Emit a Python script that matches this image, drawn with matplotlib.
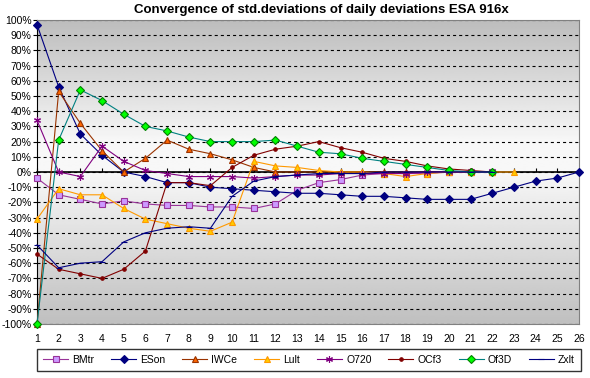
import numpy as np
import matplotlib
matplotlib.use("Agg")
import matplotlib.pyplot as plt
from matplotlib.ticker import FixedLocator, FuncFormatter

plt.rcParams['font.family'] = ['Liberation Sans', 'DejaVu Sans']
plt.rcParams['lines.scale_dashes'] = False

# data (values in %)
days = list(range(1, 27))
bmtr = [-4, -15, -18, -21, -19, -21, -22, -22, -23, -23, -24, -21, -12, -7, -5, -2, -1, -1, -1, 0, 0, 0]
eson = [97, 56, 25, 11, 0, -3, -7, -7, -10, -11, -12, -13, -14, -14, -15, -16, -16, -17, -18, -18, -18, -14, -10, -6, -4, 0]
iwce = [-100, 53, 32, 14, 0, 9, 21, 15, 12, 8, 3, 0, 0, 0, 0, 0, 0, 0, 0, 0, 0, 0]
lult = [-31, -11, -15, -15, -24, -31, -34, -37, -39, -33, 7, 4, 3, 1, 0, 0, -1, -3, -1, 0, 0, 0, 0]
o720 = [34, 0, -3, 17, 7, 1, -1, -3, -3, -3, -4, -3, -2, -2, -1, -1, -1, -1, 0, 0, 0, 0]
ocf3 = [-54, -64, -67, -70, -64, -52, -7, -7, -9, 3, 11, 15, 17, 20, 16, 13, 9, 7, 4, 2, 1, 0]
of3d = [-100, 21, 54, 47, 38, 30, 27, 23, 20, 20, 20, 21, 17, 13, 12, 9, 7, 5, 3, 1, 0, 0]
zxlt = [-48, -63, -60, -59, -46, -40, -37, -36, -37, -16, -6, -3, -2, -1, -1, -1, 0, 0, 0, 0, 0, 0]

title = "Convergence of std.deviations of daily deviations ESA 916x"

# (name, values, line colour, marker, marker face, marker edge, marker size)
series = [
    ("BMtr", bmtr, "#993399", "s", "#cc99ff", "#993399", 4.5),
    ("ESon", eson, "#000080", "D", "#000080", "#000080", 4),
    ("IWCe", iwce, "#993300", "^", "#ff6600", "#993300", 5),
    ("Lult", lult, "#ff9900", "^", "#ffcc00", "#ff9900", 5),
    ("O720", o720, "#800080", (6, 2, 0), "#800080", "#800080", 5),
    ("OCf3", ocf3, "#800000", "o", "#800000", "#800000", 2.5),
    ("Of3D", of3d, "#008080", "D", "#00ff00", "#008000", 4),
    ("Zxlt", zxlt, "#000080", "_", "#000080", "#000080", 5),
]

fig = plt.figure(figsize=(5.9, 3.78), dpi=100)
ax = fig.add_axes([37 / 590, 1 - 324 / 378, (579 - 37) / 590, (324 - 20) / 378])

# grey gradient background, lightest near the middle
g = np.interp(np.linspace(0, 1, 256), [0, 0.5, 0.6, 1], [0.75, 0.97, 0.97, 0.74])
ax.imshow(g.reshape(-1, 1), cmap="gray", vmin=0, vmax=1, extent=[0, 1, 0, 1],
          transform=ax.transAxes, aspect="auto", origin="lower", zorder=0)

for name, vals, col, mk, mfc, mec, ms in series:
    ax.plot(days[:len(vals)], vals, color=col, lw=0.8, marker=mk, mfc=mfc, mec=mec,
            ms=ms, mew=0.8, label=name, zorder=3, clip_on=False)

ax.set_xlim(1, 26)
ax.set_ylim(-100, 100)
ax.yaxis.set_major_locator(FixedLocator(range(-100, 101, 10)))
ax.yaxis.set_major_formatter(FuncFormatter(lambda v, p: f"{int(round(v))}%"))
ax.set_xticks(days)
ax.tick_params(axis="x", length=0, pad=7, labelsize=7.5)
ax.tick_params(axis="y", length=3, width=0.8, pad=1, labelsize=7.5)
ax.grid(axis="y", color="black", lw=0.8, linestyle=(0, (2.2, 2.2)), zorder=1)

for s in ["top", "right", "bottom"]:
    ax.spines[s].set_color("#808080")
ax.spines["left"].set_color("black")

# category axis crossing at 0%
zero = ax.secondary_xaxis(0.5)
zero.set_xticks(days)
zero.tick_params(axis="x", direction="out", length=3, width=0.8, labelbottom=False, labeltop=False)
zero.spines["bottom"].set_linewidth(1.2)
zero.spines["top"].set_linewidth(1.2)

fig.text(321 / 590, 1 - 10 / 378, title, ha="center", va="center", fontsize=9.5, fontweight="bold")

h, l = ax.get_legend_handles_labels()
leg = fig.legend(h, l, loc="lower left", ncol=8, mode="expand",
                 bbox_to_anchor=(37 / 590, 1 - 371 / 378, (581 - 37) / 590, 26 / 378),
                 fontsize=7.5, frameon=True, fancybox=False, handlelength=2.4,
                 handletextpad=0.4, borderaxespad=0, borderpad=0.6)
leg.get_frame().set_edgecolor("black")
leg.get_frame().set_linewidth(1)

fig.savefig("out.png", dpi=100)
